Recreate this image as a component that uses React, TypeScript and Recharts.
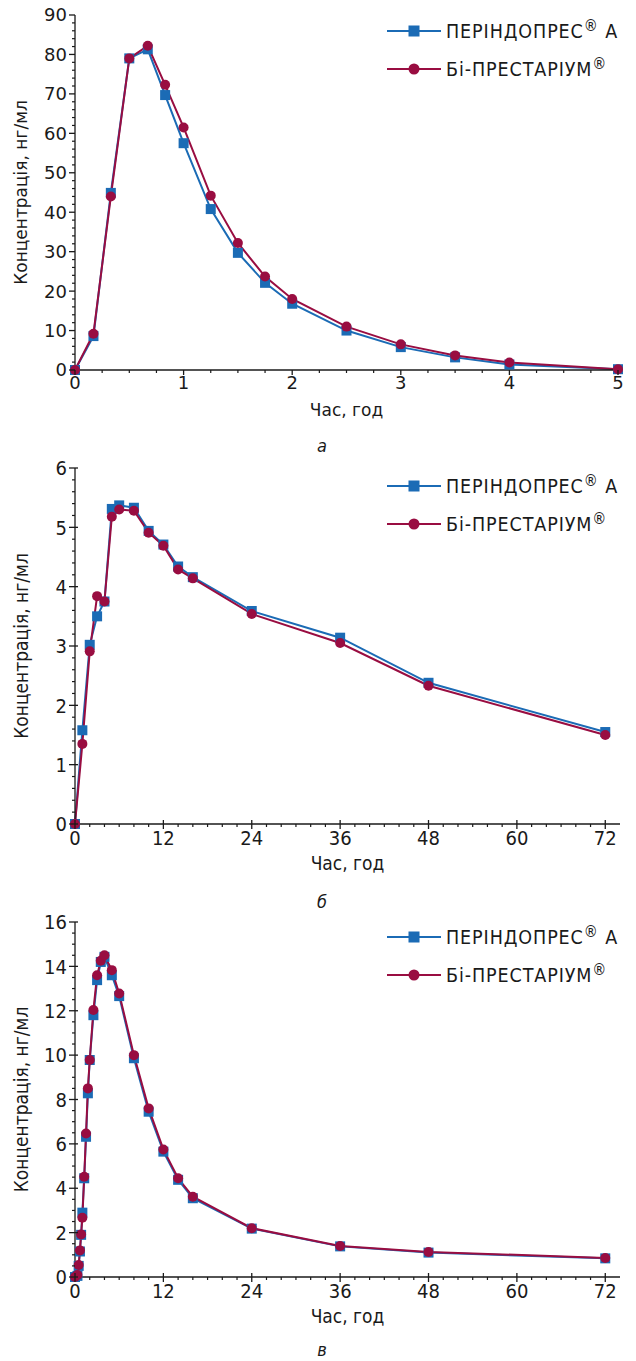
import React from "react";
import { LineChart, Line, XAxis, YAxis, Legend } from "recharts";

// --- chart а: 0–5 год
const timesA = [0, 0.17, 0.33, 0.5, 0.67, 0.83, 1, 1.25, 1.5, 1.75, 2, 2.5, 3, 3.5, 4, 5];
const perindopresA = [0, 8.6, 44.9, 79, 81.3, 69.7, 57.5, 40.8, 29.7, 22.1, 16.8, 10, 5.8, 3.2, 1.4, 0.2];
const biprestariumA = [0, 9.2, 44, 79, 82.2, 72.3, 61.5, 44.2, 32.2, 23.7, 18, 11, 6.5, 3.7, 1.9, 0.2];

// --- chart б: 0–72 год
const timesB = [0, 1, 2, 3, 4, 5, 6, 8, 10, 12, 14, 16, 24, 36, 48, 72];
const perindopresB = [0, 1.58, 3.02, 3.5, 3.75, 5.31, 5.37, 5.33, 4.94, 4.71, 4.34, 4.16, 3.59, 3.14, 2.38, 1.55];
const biprestariumB = [0, 1.35, 2.91, 3.84, 3.75, 5.18, 5.3, 5.28, 4.91, 4.69, 4.29, 4.14, 3.54, 3.05, 2.33, 1.5];

// --- chart в: 0–72 год
const timesC = [0, 0.33, 0.5, 0.67, 0.83, 1, 1.25, 1.5, 1.75, 2, 2.5, 3, 3.5, 4, 5, 6, 8, 10, 12, 14, 16, 24, 36, 48, 72];
const perindopresC = [0, 0.05, 0.5, 1.15, 1.9, 2.9, 4.45, 6.32, 8.28, 9.78, 11.8, 13.38, 14.2, 14.43, 13.6, 12.66, 9.86, 7.45, 5.65, 4.38, 3.55, 2.18, 1.38, 1.1, 0.84];
const biprestariumC = [0, 0.09, 0.54, 1.2, 1.92, 2.67, 4.52, 6.47, 8.5, 9.78, 12.03, 13.6, 14.25, 14.5, 13.83, 12.78, 10.0, 7.6, 5.75, 4.45, 3.62, 2.2, 1.4, 1.13, 0.86];

// tick labels
const xMajorA = [0, 1, 2, 3, 4, 5];
const yMajorA = [0, 10, 20, 30, 40, 50, 60, 70, 80, 90];
const xMajorHours = [0, 12, 24, 36, 48, 60, 72];
const yMajorB = [0, 1, 2, 3, 4, 5, 6];
const yMajorC = [0, 2, 4, 6, 8, 10, 12, 14, 16];

const seriesNames = ["ПЕРІНДОПРЕС® А", "Бі-ПРЕСТАРІУМ®"];
const captions = ["а", "б", "в"];

const BLUE = "#1b6bb5";
const RED = "#990d41";
const INK = "#1a1a1a";
const SANS = "DejaVu Sans";
const COND = "DejaVu Sans Condensed";

const steps = (from: number, to: number, step: number) => {
  const out: number[] = [];
  for (let v = from; v <= to + 1e-9; v += step) out.push(Math.round(v * 1000) / 1000);
  return out;
};

const toRows = (t: number[], a: number[], b: number[]) =>
  t.map((time, i) => ({ t: time, a: a[i], b: b[i] }));

const isMajor = (list: number[], v: number) => list.some((m) => Math.abs(m - v) < 1e-6);

type TickStyle = { font: string; size: number; cross: boolean; dy: number };

function xTick(major: number[], st: TickStyle) {
  return (props: any) => {
    const { x, y, payload } = props;
    const v = payload.value;
    if (!isMajor(major, v)) {
      return <line x1={x} x2={x} y1={y} y2={y + 3} stroke={INK} strokeWidth={1.2} />;
    }
    return (
      <g>
        <line x1={x} x2={x} y1={st.cross ? y - 4 : y} y2={y + 5} stroke={INK} strokeWidth={1.3} />
        <text x={x} y={y + st.dy} textAnchor="middle" fontFamily={st.font} fontSize={st.size} fill={INK}>
          {v}
        </text>
      </g>
    );
  };
}

function yTick(major: number[], st: TickStyle) {
  return (props: any) => {
    const { x, y, payload } = props;
    const v = payload.value;
    if (!isMajor(major, v)) {
      return <line x1={x - 3} x2={x} y1={y} y2={y} stroke={INK} strokeWidth={1.2} />;
    }
    return (
      <g>
        <line x1={x - 6} x2={st.cross ? x + 3 : x} y1={y} y2={y} stroke={INK} strokeWidth={1.3} />
        <text x={x - 8} y={y} dy="0.36em" textAnchor="end" fontFamily={st.font} fontSize={st.size} fill={INK}>
          {v}
        </text>
      </g>
    );
  };
}

const withReg = (name: string) => {
  const parts = name.split("®");
  return (
    <>
      {parts[0]}
      <sup style={{ fontSize: "0.8em", verticalAlign: "0.45em", lineHeight: 0 }}>®</sup>
      {parts[1]}
    </>
  );
};

function LegendBox() {
  const items = [
    { name: seriesNames[0], color: BLUE, square: true },
    { name: seriesNames[1], color: RED, square: false },
  ];
  return (
    <div style={{ fontFamily: COND, fontSize: 19.5, letterSpacing: 0.9, color: INK }}>
      {items.map((it) => (
        <div key={it.name} style={{ display: "flex", alignItems: "center", height: 38 }}>
          <svg width={54} height={14} style={{ flex: "none" }}>
            <line x1={0} x2={54} y1={7} y2={7} stroke={it.color} strokeWidth={2} />
            {it.square ? (
              <rect x={21.5} y={1.5} width={11} height={11} fill={it.color} />
            ) : (
              <circle cx={27} cy={7} r={5.5} fill={it.color} />
            )}
          </svg>
          <span style={{ marginLeft: 5, whiteSpace: "nowrap" }}>{withReg(it.name)}</span>
        </div>
      ))}
    </div>
  );
}

const squareDot = (props: any) => {
  const { cx, cy, index } = props;
  return <rect key={`sq-${index}`} x={cx - 5} y={cy - 5} width={10} height={10} fill={BLUE} />;
};

type PanelProps = {
  top: number;
  height: number;
  margin: { top: number; right: number; left: number; bottom: number };
  rows: { t: number; a: number; b: number }[];
  xDomain: [number, number];
  yDomain: [number, number];
  xTicks: number[];
  yTicks: number[];
  xMajor: number[];
  yMajor: number[];
  font: string;
  tickSize: number;
  titleSize: number;
  cross: boolean;
  xDy: number;
  legendTop: number;
  caption: string;
  captionTop: number;
};

function Panel(p: PanelProps) {
  const st: TickStyle = { font: p.font, size: p.tickSize, cross: p.cross, dy: p.xDy };
  return (
    <div style={{ position: "absolute", left: 0, top: p.top }}>
      <LineChart width={636} height={p.height} data={p.rows} margin={p.margin}>
        <XAxis
          type="number"
          dataKey="t"
          domain={p.xDomain}
          ticks={p.xTicks}
          interval={0}
          tickSize={0}
          tickMargin={0}
          tickLine={false}
          tick={xTick(p.xMajor, st)}
          height={60}
          stroke={INK}
          strokeWidth={1.3}
          allowDecimals
          label={{
            value: "Час, год",
            position: "insideTop",
            offset: 46 - 0.71 * p.titleSize,
            fill: INK,
            fontFamily: p.font,
            fontSize: p.titleSize,
          }}
        />
        <YAxis
          type="number"
          domain={p.yDomain}
          ticks={p.yTicks}
          interval={0}
          tickSize={0}
          tickMargin={0}
          tickLine={false}
          tick={yTick(p.yMajor, st)}
          width={75}
          stroke={INK}
          strokeWidth={1.3}
          label={{
            value: "Концентрація, нг/мл",
            angle: -90,
            position: "insideLeft",
            offset: 21,
            fill: INK,
            fontFamily: p.font,
            fontSize: p.titleSize,
            style: { textAnchor: "middle" },
          }}
        />
        <Legend
          layout="vertical"
          align="center"
          verticalAlign="middle"
          content={() => <LegendBox />}
          wrapperStyle={{ left: 387, top: p.legendTop, width: "auto" }}
        />
        <Line
          type="linear"
          dataKey="a"
          name={seriesNames[0]}
          stroke={BLUE}
          strokeWidth={2}
          dot={squareDot}
          isAnimationActive={false}
        />
        <Line
          type="linear"
          dataKey="b"
          name={seriesNames[1]}
          stroke={RED}
          strokeWidth={2}
          dot={{ r: 5, fill: RED, stroke: "none" }}
          isAnimationActive={false}
        />
      </LineChart>
      <div
        style={{
          position: "absolute",
          left: 4,
          width: 636,
          top: p.captionTop,
          textAlign: "center",
          fontFamily: COND,
          fontStyle: "italic",
          fontSize: 18,
          lineHeight: "22px",
          color: INK,
        }}
      >
        {p.caption}
      </div>
    </div>
  );
}

export default function App() {
  return (
    <div style={{ position: "absolute", left: 0, top: 0, width: 636, height: 1361, background: "#fff" }}>
      <Panel
        top={0}
        height={455}
        margin={{ top: 15, right: 18, left: 0, bottom: 25 }}
        rows={toRows(timesA, perindopresA, biprestariumA)}
        xDomain={[0, 5]}
        yDomain={[0, 90]}
        xTicks={steps(0, 5, 0.25)}
        yTicks={steps(0, 90, 2)}
        xMajor={xMajorA}
        yMajor={yMajorA}
        font={SANS}
        tickSize={18}
        titleSize={17}
        cross={false}
        xDy={19}
        legendTop={12}
        caption={captions[0]}
        captionTop={435}
      />
      <Panel
        top={455}
        height={455}
        margin={{ top: 13, right: 16, left: 0, bottom: 26 }}
        rows={toRows(timesB, perindopresB, biprestariumB)}
        xDomain={[0, 74]}
        yDomain={[0, 6]}
        xTicks={steps(0, 72, 2)}
        yTicks={steps(0, 6, 0.2)}
        xMajor={xMajorHours}
        yMajor={yMajorB}
        font={COND}
        tickSize={20}
        titleSize={19}
        cross={true}
        xDy={21}
        legendTop={12}
        caption={captions[1]}
        captionTop={436}
      />
      <Panel
        top={910}
        height={451}
        margin={{ top: 12, right: 16, left: 0, bottom: 24 }}
        rows={toRows(timesC, perindopresC, biprestariumC)}
        xDomain={[0, 74]}
        yDomain={[0, 16]}
        xTicks={steps(0, 72, 2)}
        yTicks={steps(0, 16, 0.5)}
        xMajor={xMajorHours}
        yMajor={yMajorC}
        font={COND}
        tickSize={20}
        titleSize={19}
        cross={true}
        xDy={21}
        legendTop={8}
        caption={captions[2]}
        captionTop={429}
      />
    </div>
  );
}
